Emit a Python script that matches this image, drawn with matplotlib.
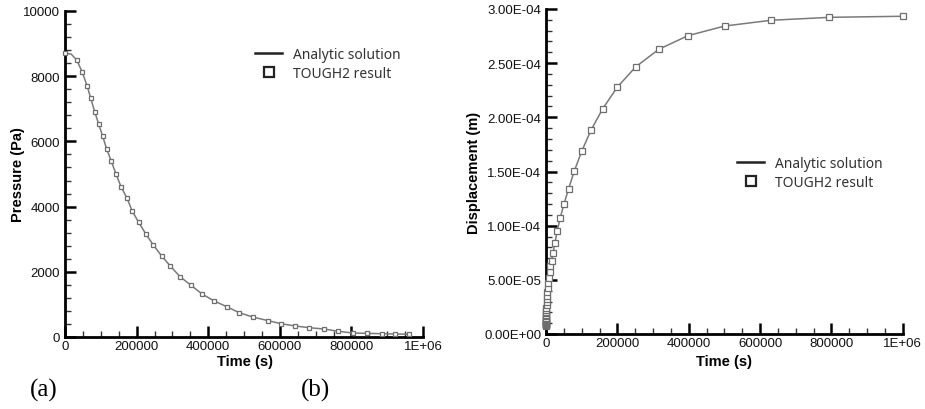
import matplotlib
matplotlib.use("Agg")
import matplotlib.pyplot as plt
from matplotlib.lines import Line2D
from matplotlib.ticker import MultipleLocator, FuncFormatter

# (a) pore pressure at the base
P_TIME = [0, 32700, 48400, 61500, 71700, 82900, 94000, 105300, 116400, 129400,
          142500, 156400, 173000, 188100, 205800, 225300, 246700, 270000, 294200,
          321200, 351100, 382700, 415300, 451600, 486900, 524300, 568000, 603400,
          643300, 682500, 723500, 763400, 803600, 842700, 884500, 921800, 961500]
P_TOUGH2 = [8700, 8497, 8120, 7710, 7330, 6911, 6534, 6156, 5767, 5390,
            5000, 4610, 4264, 3856, 3518, 3169, 2822, 2485, 2178,
            1850, 1595, 1319, 1114, 930, 745, 613, 500, 408,
            337, 285, 245, 175, 123, 113, 101, 92, 83]
P_ANALYTIC_TIME = [0, 17000] + P_TIME[1:]
P_ANALYTIC = [8700, 8680] + P_TOUGH2[1:]

# (b) settlement, TOUGH2 output times are 10 per decade
D_TIME = [10, 12.59, 15.85, 19.95, 25.12, 31.62, 39.81, 50.12, 63.10, 79.43,
          100, 125.9, 158.5, 199.5, 251.2, 316.2, 398.1, 501.2, 631.0, 794.3,
          1000, 1259, 1585, 1995, 2512, 3162, 3981, 5012, 6310, 7943,
          10000, 12589, 15849, 19953, 25119, 31623, 39811, 50119, 63096, 79433,
          100000, 125893, 158489, 199526, 251189, 316228, 398107, 501187, 630957, 794328,
          1000000]
D_TOUGH2 = [0.077e-4, 0.079e-4, 0.081e-4, 0.084e-4, 0.087e-4, 0.090e-4, 0.093e-4, 0.097e-4, 0.102e-4, 0.107e-4,
            0.112e-4, 0.119e-4, 0.126e-4, 0.134e-4, 0.142e-4, 0.152e-4, 0.163e-4, 0.176e-4, 0.190e-4, 0.206e-4,
            0.224e-4, 0.243e-4, 0.266e-4, 0.291e-4, 0.319e-4, 0.350e-4, 0.385e-4, 0.425e-4, 0.469e-4, 0.519e-4,
            0.575e-4, 0.630e-4, 0.677e-4, 0.751e-4, 0.843e-4, 0.954e-4, 1.071e-4, 1.197e-4, 1.338e-4, 1.505e-4,
            1.686e-4, 1.880e-4, 2.077e-4, 2.277e-4, 2.465e-4, 2.628e-4, 2.754e-4, 2.843e-4, 2.896e-4, 2.923e-4,
            2.933e-4]

X_TICKS = [0, 200000, 400000, 600000, 800000, 1000000]
X_TICK_LABELS = ["0", "200000", "400000", "600000", "800000", "1E+06"]

LINE_GREY = "#7a7a7a"
MARK_GREY = "#6e6e6e"
TICK_FONT = "Liberation Sans"
LEGEND_FONT = "Noto Sans"

W, H = 925, 410


def px_axes(fig, x0, x1, ytop, ybot):
    return fig.add_axes([x0 / W, 1 - ybot / H, (x1 - x0) / W, (ybot - ytop) / H])


def style_axes(ax):
    for side in ("top", "right"):
        ax.spines[side].set_visible(False)
    for side in ("left", "bottom"):
        ax.spines[side].set_linewidth(2.0)
        ax.spines[side].set_color("black")
    ax.tick_params(which="major", direction="in", length=8, width=1.8, color="black")
    ax.tick_params(which="minor", direction="in", length=4, width=1.0, color="#333333")
    ax.tick_params(axis="x", which="both", pad=2)
    ax.tick_params(axis="y", which="both", pad=3.5)
    ax.set_xlim(0, 1e6)
    ax.set_xticks(X_TICKS)
    ax.set_xticklabels(X_TICK_LABELS)
    ax.xaxis.set_minor_locator(MultipleLocator(50000))
    for lab in ax.get_xticklabels() + ax.get_yticklabels():
        lab.set_fontfamily(TICK_FONT)
        lab.set_fontsize(9.5)
        lab.set_color("#111111")


def legend_handles():
    return [
        Line2D([], [], color="#222222", lw=1.8),
        Line2D([], [], ls="none", marker="s", markersize=7, mfc="white",
               mec="#222222", mew=1.6),
    ]


def add_legend(ax, fig, x_px, top_px):
    leg = ax.legend(legend_handles(), ["Analytic solution", "TOUGH2 result"],
                    loc="upper left", bbox_to_anchor=(x_px / W, 1 - top_px / H),
                    bbox_transform=fig.transFigure, frameon=False,
                    borderpad=0, borderaxespad=0, handlelength=1.95,
                    handletextpad=0.8, labelspacing=0.3,
                    prop={"family": LEGEND_FONT, "size": 10})
    for t in leg.get_texts():
        t.set_color("#333333")


fig = plt.figure(figsize=(W / 100, H / 100), dpi=100)

# (a) pressure
ax1 = px_axes(fig, 65, 423, 12, 338)
ax1.plot(P_ANALYTIC_TIME, P_ANALYTIC, color=LINE_GREY, lw=1.1, zorder=2, clip_on=False)
ax1.plot(P_TIME, P_TOUGH2, ls="none", marker="s", markersize=3.1, mfc="white",
         mec=MARK_GREY, mew=0.9, zorder=3, clip_on=False)
ax1.set_ylim(0, 10000)
ax1.set_yticks([0, 2000, 4000, 6000, 8000, 10000])
ax1.yaxis.set_minor_locator(MultipleLocator(400))
style_axes(ax1)
ax1.set_xlabel("Time (s)", fontfamily=TICK_FONT, fontsize=10.5, fontweight="bold", va="center")
ax1.set_ylabel("Pressure (Pa)", fontfamily=TICK_FONT, fontsize=10.5, fontweight="bold", va="center")
ax1.xaxis.set_label_coords(0.503, -0.074)
ax1.yaxis.set_label_coords(-0.131, 0.5)
add_legend(ax1, fig, 255, 48)

# (b) displacement
ax2 = px_axes(fig, 546, 902.7, 10, 335)
ax2.plot(D_TIME, D_TOUGH2, color=LINE_GREY, lw=1.1, zorder=2, clip_on=False)
ax2.plot(D_TIME, D_TOUGH2, ls="none", marker="s", markersize=4.3, mfc="white",
         mec=MARK_GREY, mew=0.9, zorder=3, clip_on=False)
ax2.set_ylim(0, 3e-4)
ax2.set_yticks([0, 5e-5, 1e-4, 1.5e-4, 2e-4, 2.5e-4, 3e-4])
ax2.yaxis.set_major_formatter(FuncFormatter(lambda v, _p: "%.2E" % v))
ax2.yaxis.set_minor_locator(MultipleLocator(1e-5))
style_axes(ax2)
ax2.set_xlabel("Time (s)", fontfamily=TICK_FONT, fontsize=10.5, fontweight="bold", va="center")
ax2.set_ylabel("Displacement (m)", fontfamily=TICK_FONT, fontsize=10.5, fontweight="bold", va="center")
ax2.xaxis.set_label_coords(0.499, -0.083)
ax2.yaxis.set_label_coords(-0.203, 0.5)
add_legend(ax2, fig, 737, 157)

fig.text(44 / W, 1 - 390 / H, "(a)", family="Liberation Serif", fontsize=18,
         ha="center", va="center")
fig.text(315 / W, 1 - 390 / H, "(b)", family="Liberation Serif", fontsize=18,
         ha="center", va="center")

fig.savefig("out.png", dpi=100)
